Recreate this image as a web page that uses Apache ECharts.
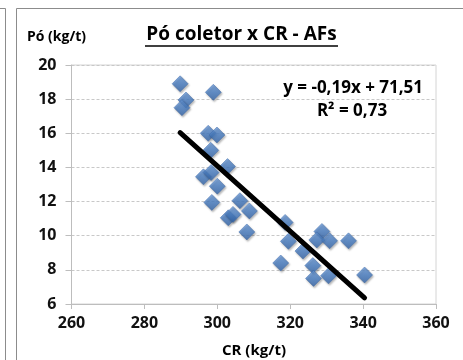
<!DOCTYPE html>
<html>
<head>
<meta charset="utf-8">
<script src="https://cdn.jsdelivr.net/npm/echarts@6/dist/echarts.min.js"></script>
<style>
  html, body { margin: 0; padding: 0; background: #fff; }
  #chart { width: 463px; height: 360px; }
</style>
</head>
<body>
<div id="chart"></div>
<script>
// CR (kg/t) per sample
const crValues = [
  289.8, 298.9, 291.4, 290.3, 297.5, 299.9, 298.2, 302.8, 296.2, 298.3,
  300.0, 298.5, 306.2, 308.8, 303.0, 304.3, 308.1, 318.6, 319.5, 323.5,
  317.4, 326.2, 326.4, 330.5, 328.7, 327.3, 330.8, 336.0, 340.4
];
// Pó coletor (kg/t) per sample
const poValues = [
  18.9, 18.4, 17.95, 17.5, 16.0, 15.9, 15.0, 14.05, 13.45, 13.7,
  12.9, 11.95, 12.05, 11.45, 11.05, 11.25, 10.22, 10.78, 9.67, 9.1,
  8.4, 8.25, 7.5, 7.65, 10.25, 9.75, 9.7, 9.7, 7.7
];
// Linear trend coefficients and fit quality
const trendSlope = -0.1914;
const trendIntercept = 71.51;
const trendR2 = 0.73;

const xTicks = [260, 280, 300, 320, 340, 360];
const yTicks = [6, 8, 10, 12, 14, 16, 18, 20];

const points = crValues.map((x, i) => [x, poValues[i]]);
const xMinData = Math.min(...crValues);
const xMaxData = Math.max(...crValues);
const trendPoints = [xMinData, xMaxData].map(x => [x, trendSlope * x + trendIntercept]);

const fmt = v => v.toFixed(2).replace('.', ',');
const eqText = 'y = ' + fmt(trendSlope) + 'x + ' + fmt(trendIntercept);
const r2Text = 'R² = ' + fmt(trendR2);

const FONT = '"Open Sans", "Liberation Sans", sans-serif';

const chart = echarts.init(document.getElementById('chart'), null, { renderer: 'canvas' });
chart.setOption({
  animation: false,
  backgroundColor: '#ffffff',
  grid: { left: 71.5, right: 27, top: 65, bottom: 56, show: true, borderColor: '#d4d4d4', borderWidth: 1 },
  xAxis: {
    type: 'value',
    min: xTicks[0], max: xTicks[xTicks.length - 1], interval: 20,
    axisLine: { show: true, lineStyle: { color: '#bdbdbd', width: 1 } },
    axisTick: { show: true, length: 5, lineStyle: { color: '#bdbdbd' } },
    splitLine: { show: false },
    axisLabel: { color: '#111', fontFamily: FONT, fontWeight: 'bold', fontSize: 16, margin: 11 }
  },
  yAxis: {
    type: 'value',
    min: yTicks[0], max: yTicks[yTicks.length - 1], interval: 2,
    axisLine: { show: true, lineStyle: { color: '#bdbdbd', width: 1 } },
    axisTick: { show: true, length: 6, lineStyle: { color: '#bdbdbd' } },
    splitLine: { show: true, lineStyle: { color: '#c8c8c8', type: [3, 2], width: 1 } },
    axisLabel: { color: '#111', fontFamily: FONT, fontWeight: 'bold', fontSize: 16, margin: 15 }
  },
  series: [
    {
      type: 'scatter',
      data: points,
      symbol: 'diamond',
      symbolSize: 16,
      itemStyle: {
        color: new echarts.graphic.LinearGradient(0, 0, 0, 1, [
          { offset: 0, color: '#6b9ad8' },
          { offset: 0.5, color: '#4a7fc4' },
          { offset: 1, color: '#3565a8' }
        ]),
        borderColor: '#3b68a6',
        borderWidth: 0.6,
        shadowColor: 'rgba(0,0,0,0.35)',
        shadowBlur: 2,
        shadowOffsetX: 1,
        shadowOffsetY: 1.5
      },
      z: 2
    },
    {
      type: 'line',
      data: trendPoints,
      symbol: 'none',
      lineStyle: { color: '#000', width: 5, cap: 'round' },
      z: 3
    }
  ],
  graphic: [
    // outer chart frame and neighbouring frame edge
    { type: 'rect', shape: { x: 16.5, y: 8.5, width: 460, height: 360 }, style: { fill: 'none', stroke: '#8c8c8c', lineWidth: 1 }, silent: true },
    { type: 'polyline', shape: { points: [[0, 8.5], [5.5, 8.5], [5.5, 360]] }, style: { fill: 'none', stroke: '#8c8c8c', lineWidth: 1 }, silent: true },
    // title with underline
    { type: 'text', x: 241.5, y: 35, style: { text: 'Pó coletor x CR - AFs', font: 'bold 19px ' + FONT, fill: '#000', align: 'center', verticalAlign: 'middle' } },
    { type: 'line', shape: { x1: 145, y1: 46, x2: 338, y2: 46 }, style: { stroke: '#000', lineWidth: 1.4 } },
    // y axis name
    { type: 'text', x: 27, y: 37, style: { text: 'Pó (kg/t)', font: 'bold 14px ' + FONT, fill: '#000', verticalAlign: 'middle' } },
    // x axis name
    { type: 'text', x: 254, y: 351, style: { text: 'CR (kg/t)', font: 'bold 15px ' + FONT, fill: '#000', align: 'center', verticalAlign: 'middle' } },
    // trend equation
    { type: 'text', x: 423, y: 88, style: { text: eqText, font: 'bold 17px ' + FONT, fill: '#000', align: 'right', verticalAlign: 'middle' } },
    { type: 'text', x: 352, y: 111, style: { text: r2Text, font: 'bold 17px ' + FONT, fill: '#000', align: 'center', verticalAlign: 'middle' } }
  ]
});
</script>
</body>
</html>
